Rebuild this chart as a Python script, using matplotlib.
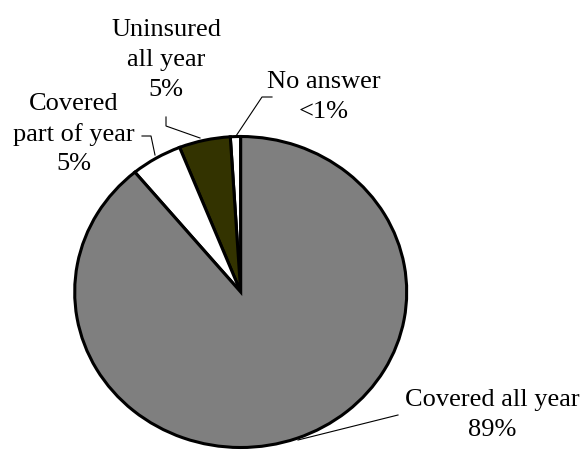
import matplotlib.pyplot as plt

# Pie data (counter-clockwise from 12 o'clock)
labels = ["No answer\n<1%", "Uninsured\nall year\n5%", "Covered\npart of year\n5%", "Covered all year\n89%"]
shares = [1, 5, 5, 89]
colors = ["white", "#333300", "white", "#7f7f7f"]

W, H = 582, 450
fig = plt.figure(figsize=(W / 100, H / 100), dpi=100)

# pie sits in its own axes so it can be slightly elliptical
cx, cy, rx, ry = 240.7, 292, 166, 155.5
ax_pie = fig.add_axes([(cx - rx) / W, 1 - (cy + ry) / H, 2 * rx / W, 2 * ry / H])
ax_pie.pie(shares, colors=colors, startangle=90, counterclock=True,
           wedgeprops=dict(edgecolor="black", linewidth=2.2, joinstyle="miter"))
ax_pie.set_aspect("auto")
ax_pie.set_xlim(-1, 1)
ax_pie.set_ylim(-1, 1)
ax_pie.axis("off")

# overlay axes in pixel coordinates for labels and leader lines
ax = fig.add_axes([0, 0, 1, 1], facecolor="none")
ax.set_xlim(0, W)
ax.set_ylim(H, 0)
ax.axis("off")

font = dict(family="Liberation Serif", size=19, ha="center", va="center",
            multialignment="center", linespacing=1.45)

label_pos = [(324, 97), (166, 60), (74, 134), (492, 415)]
for text, (x, y) in zip(labels, label_pos):
    ax.text(x, y, text, **font)

leaders = [
    ([236, 262, 272], [136, 97, 97]),
    ([200, 166, 166], [138, 126, 117]),
    ([155, 151, 142], [155, 136, 136]),
    ([298, 398], [440, 415]),
]
for xs, ys in leaders:
    ax.plot(xs, ys, color="black", linewidth=0.8)

fig.savefig("out.png", dpi=100)
